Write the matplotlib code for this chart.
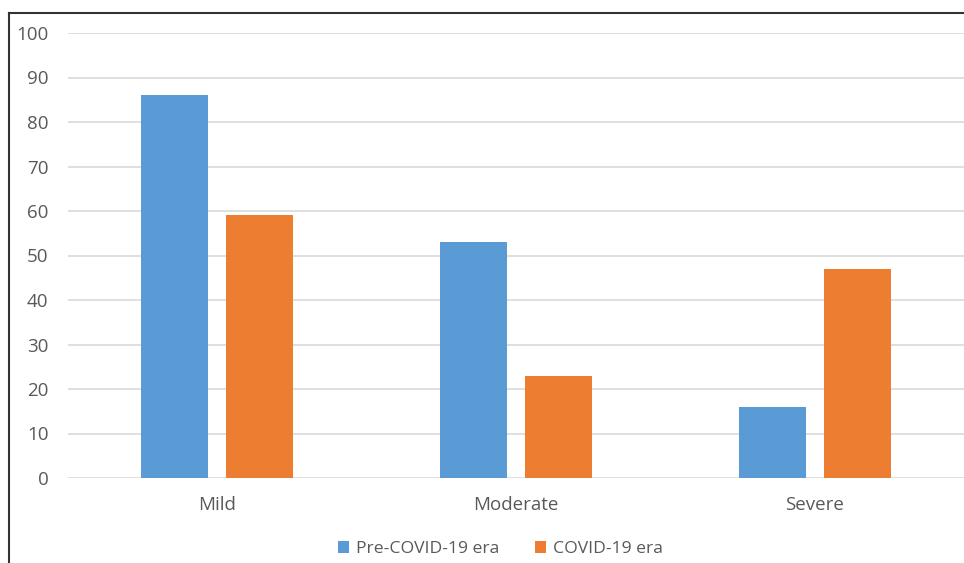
import matplotlib.pyplot as plt
from matplotlib.lines import Line2D
import numpy as np

categories = ["Mild", "Moderate", "Severe"]
pre_covid = [86, 53, 16]
covid = [59, 23, 47]
series_names = ["Pre-COVID-19 era", "COVID-19 era"]

plt.rcParams['font.family'] = ['Open Sans', 'DejaVu Sans']

fig = plt.figure(figsize=(9.64, 5.63), dpi=100)
ax = fig.add_axes([68 / 964, 1 - 478 / 563, 1 - 68 / 964, (478 - 33) / 563])

x = np.arange(len(categories))
w = 0.224
off = 0.142
ax.bar(x - off, pre_covid, w, color='#5B9BD5', label=series_names[0], zorder=3)
ax.bar(x + off, covid, w, color='#ED7D31', label=series_names[1], zorder=3)

ax.set_xlim(-0.5, 2.5)
ax.set_ylim(0, 100)
ax.set_yticks(range(0, 101, 10))
ax.set_xticks(x)
ax.set_xticklabels(categories)
ax.yaxis.grid(True, color='#D9D9D9', linewidth=1.2, zorder=0)
for s in ax.spines.values():
    s.set_visible(False)
ax.tick_params(axis='both', length=0, labelsize=13.5, colors='#595959')
ax.tick_params(axis='y', pad=14)
ax.tick_params(axis='x', pad=13)

ax.legend(loc='center', bbox_to_anchor=(0.519, 1 - 549 / 563), bbox_transform=fig.transFigure,
          ncol=2, frameon=False, fontsize=12.6, labelcolor='#595959',
          handlelength=0.65, handleheight=0.65, handletextpad=0.4, columnspacing=2.0)

# frame border (left and top edges visible)
fig.add_artist(Line2D([8.5 / 964, 8.5 / 964], [0, 1 - 13 / 563], transform=fig.transFigure,
                      color='#333333', linewidth=1.5))
fig.add_artist(Line2D([8.5 / 964, 1], [1 - 13 / 563, 1 - 13 / 563], transform=fig.transFigure,
                      color='#333333', linewidth=1.5))

plt.savefig('out.png', dpi=100)
